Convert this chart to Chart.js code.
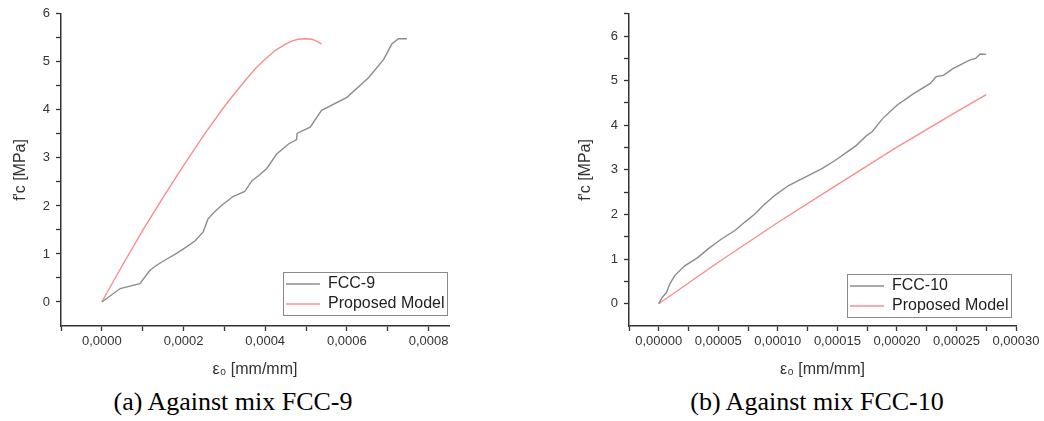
<!DOCTYPE html>
<html>
<head>
<meta charset="utf-8">
<script src="https://cdn.jsdelivr.net/npm/chart.js@4/dist/chart.umd.min.js"></script>
<style>
  html, body { margin: 0; padding: 0; background: #fff; }
  #wrap { position: relative; width: 1044px; height: 421px; background: #fff; overflow: hidden; }
  .cv { position: absolute; top: 0; }
  .cap { position: absolute; top: 389px; font-family: 'Liberation Serif', 'Times New Roman', serif; font-size: 26px; line-height: 26px; color: #000; white-space: nowrap; transform: translateX(-50%); }
</style>
</head>
<body>
<div id="wrap">
  <canvas id="c1" class="cv" width="520" height="386" style="left:0px"></canvas>
  <canvas id="c2" class="cv" width="524" height="386" style="left:520px"></canvas>
  <div class="cap" style="left:233px">(a) Against mix FCC-9</div>
  <div class="cap" style="left:817px">(b) Against mix FCC-10</div>
</div>
<script>
// ---------- Chart (a): FCC-9 ----------
const xFCC9 = [0, 0.000045, 0.000093, 0.000118, 0.000135, 0.000158, 0.000179, 0.000199, 0.000228, 0.000248, 0.00026, 0.000275, 0.000293, 0.000322, 0.00035, 0.000367, 0.000385, 0.000404, 0.000428, 0.000457, 0.000477, 0.000478, 0.00051, 0.000538, 0.0006, 0.000653, 0.00069, 0.00071, 0.000726, 0.000747];
const yFCC9 = [0, 0.28, 0.38, 0.66, 0.77, 0.89, 0.99, 1.10, 1.27, 1.46, 1.73, 1.87, 2.01, 2.20, 2.30, 2.52, 2.64, 2.78, 3.08, 3.29, 3.38, 3.51, 3.64, 3.99, 4.26, 4.67, 5.05, 5.37, 5.48, 5.48];
const xModel9 = [0, 0.00005, 0.0001, 0.00015, 0.0002, 0.00025, 0.0003, 0.000325, 0.00035, 0.000375, 0.0004, 0.000425, 0.00045, 0.000465, 0.00048, 0.0005, 0.000515, 0.000528, 0.000538];
const yModel9 = [0, 0.76, 1.49, 2.18, 2.84, 3.48, 4.07, 4.34, 4.60, 4.85, 5.06, 5.24, 5.37, 5.43, 5.47, 5.48, 5.47, 5.42, 5.37];
const xTicksA = [-0.0001, 0, 0.0001, 0.0002, 0.0003, 0.0004, 0.0005, 0.0006, 0.0007, 0.0008];
const xTickLabelsA = ['', '0,0000', '', '0,0002', '', '0,0004', '', '0,0006', '', '0,0008'];
const yTicksA = [0, 0.5, 1, 1.5, 2, 2.5, 3, 3.5, 4, 4.5, 5, 5.5, 6];
const yTickLabelsA = ['0', '', '1', '', '2', '', '3', '', '4', '', '5', '', '6'];

// ---------- Chart (b): FCC-10 ----------
const xFCC10 = [0, 0.0000028, 0.0000065, 0.0000092, 0.0000134, 0.0000218, 0.000033, 0.0000414, 0.0000527, 0.0000639, 0.0000723, 0.0000807, 0.0000877, 0.0000975, 0.000109, 0.000123, 0.000137, 0.000148, 0.000158, 0.000166, 0.000175, 0.000179, 0.000188, 0.0002, 0.000214, 0.000228, 0.000233, 0.000239, 0.000247, 0.000261, 0.000266, 0.00027, 0.000275];
const yFCC10 = [0, 0.14, 0.25, 0.44, 0.63, 0.85, 1.04, 1.23, 1.45, 1.64, 1.83, 2.01, 2.20, 2.43, 2.65, 2.84, 3.03, 3.21, 3.40, 3.55, 3.78, 3.85, 4.15, 4.45, 4.71, 4.94, 5.09, 5.12, 5.27, 5.46, 5.50, 5.60, 5.59];
const xModel10 = [0, 0.00005, 0.0001, 0.00015, 0.0002, 0.00025, 0.000275];
const yModel10 = [0, 0.93, 1.82, 2.67, 3.51, 4.30, 4.69];
const xTicksB = [-0.000025, 0, 0.000025, 0.00005, 0.000075, 0.0001, 0.000125, 0.00015, 0.000175, 0.0002, 0.000225, 0.00025, 0.000275, 0.0003];
const xTickLabelsB = ['', '0,00000', '', '0,00005', '', '0,00010', '', '0,00015', '', '0,00020', '', '0,00025', '', '0,00030'];
const yTicksB = [0, 0.5, 1, 1.5, 2, 2.5, 3, 3.5, 4, 4.5, 5, 5.5, 6, 6.5];
const yTickLabelsB = ['0', '', '1', '', '2', '', '3', '', '4', '', '5', '', '6', ''];

const seriesNames = { exp9: 'FCC-9', exp10: 'FCC-10', model: 'Proposed Model' };
const axisTitles = { y: "f'c [MPa]", x: 'ε₀ [mm/mm]' };

const GRAY = '#8c8c8c';
const RED = '#ff8c8c';
const AXIS = '#333333';
const FONT = "'Liberation Sans', Arial, 'DejaVu Sans', sans-serif";

function pts(xs, ys) { return xs.map((x, i) => ({ x: x, y: ys[i] })); }

const legendInside = {
  id: 'legendInside',
  afterLayout(chart, args, opts) {
    const lg = chart.legend;
    if (!lg || !lg.columnSizes || !lg.columnSizes.length) return;
    const ca = chart.chartArea;
    const colW = lg.columnSizes[0].width;
    const pad = lg.options.labels.padding;
    lg.left = ca.right - opts.right - 2.5 - colW - pad;
    lg.right = lg.left + lg.width;
    lg.bottom = ca.bottom - opts.bottom;
    lg.top = lg.bottom - lg.height;
  },
  afterDraw(chart, args, opts) {
    const lg = chart.legend;
    const hb = lg && lg.legendHitBoxes;
    if (!hb || !hb.length) return;
    let l = Infinity, t = Infinity, r = -Infinity, b = -Infinity;
    hb.forEach(h => { l = Math.min(l, h.left); t = Math.min(t, h.top); r = Math.max(r, h.left + h.width); b = Math.max(b, h.top + h.height); });
    const ctx = chart.ctx;
    ctx.save();
    ctx.strokeStyle = opts.color;
    ctx.lineWidth = 1;
    ctx.strokeRect(Math.round(l - 3) + 0.5, Math.round(t - 4) + 0.5, Math.round(r - l + 5), Math.round(b - t + 7));
    ctx.restore();
  }
};

function makeChart(id, cfg) {
  const tickFont = { family: FONT, size: 13 };
  const titleFont = { family: FONT, size: 16 };
  return new Chart(document.getElementById(id), {
    type: 'scatter',
    data: {
      datasets: [
        { label: cfg.expName, data: pts(cfg.xe, cfg.ye), borderColor: GRAY, backgroundColor: GRAY, borderWidth: 1.4, showLine: true, pointRadius: 0, tension: 0, pointStyle: 'line' },
        { label: seriesNames.model, data: pts(cfg.xm, cfg.ym), borderColor: RED, backgroundColor: RED, borderWidth: 1.4, showLine: true, pointRadius: 0, tension: 0, pointStyle: 'line' }
      ]
    },
    options: {
      responsive: false,
      animation: false,
      devicePixelRatio: 1,
      events: [],
      layout: { padding: { left: 0, top: 13, right: cfg.padRight, bottom: 0 } },
      plugins: {
        tooltip: { enabled: false },
        legend: {
          position: 'chartArea',
          align: 'end',
          fullSize: false,
          labels: {
            usePointStyle: true,
            pointStyle: 'line',
            pointStyleWidth: 34,
            padding: 4,
            color: '#222',
            textAlign: 'left',
            font: { family: FONT, size: 16 }
          }
        },
        legendInside: { right: cfg.legRight, bottom: cfg.legBottom, color: '#8a8a8a' }
      },
      scales: {
        x: {
          type: 'linear',
          min: cfg.xmin, max: cfg.xmax,
          afterFit: (s) => { s.height = 60; },
          afterBuildTicks: (s) => { s.ticks = cfg.xt.map(v => ({ value: v })); },
          border: { display: true, color: AXIS, width: 1.5 },
          grid: { display: true, drawOnChartArea: false, drawTicks: true, tickLength: 5, tickColor: AXIS, tickWidth: 1.3 },
          ticks: { autoSkip: false, maxRotation: 0, minRotation: 0, padding: 3, color: '#333', font: tickFont,
                   callback: (v, i) => cfg.xl[i] },
          title: { display: true, text: axisTitles.x, color: '#333', font: titleFont, padding: { top: 0, bottom: 7 } }
        },
        y: {
          type: 'linear',
          min: cfg.ymin, max: cfg.ymax,
          afterFit: (s) => { s.width = cfg.yWidth; },
          afterBuildTicks: (s) => { s.ticks = cfg.yt.map(v => ({ value: v })); },
          border: { display: true, color: AXIS, width: 1.5 },
          grid: { display: true, drawOnChartArea: false, drawTicks: true, tickLength: 5, tickColor: AXIS, tickWidth: 1.3 },
          ticks: { autoSkip: false, padding: 6, color: '#333', font: tickFont,
                   callback: (v, i) => cfg.yl[i] },
          title: { display: true, text: axisTitles.y, color: '#333', font: titleFont, padding: { top: cfg.yTitlePad, bottom: 0 } }
        }
      }
    },
    plugins: [legendInside]
  });
}

makeChart('c1', {
  expName: seriesNames.exp9, xe: xFCC9, ye: yFCC9, xm: xModel9, ym: yModel9,
  xmin: -0.0001, xmax: 0.00085, ymin: -0.5, ymax: 6,
  xt: xTicksA, xl: xTickLabelsA, yt: yTicksA, yl: yTickLabelsA,
  padRight: 71, yWidth: 61, yTitlePad: 11, legRight: 2, legBottom: 10
});

makeChart('c2', {
  expName: seriesNames.exp10, xe: xFCC10, ye: yFCC10, xm: xModel10, ym: yModel10,
  xmin: -0.000025, xmax: 0.0003, ymin: -0.5, ymax: 6.5,
  xt: xTicksB, xl: xTickLabelsB, yt: yTicksB, yl: yTickLabelsB,
  padRight: 28, yWidth: 109, yTitlePad: 56, legRight: 5, legBottom: 8
});
</script>
</body>
</html>
